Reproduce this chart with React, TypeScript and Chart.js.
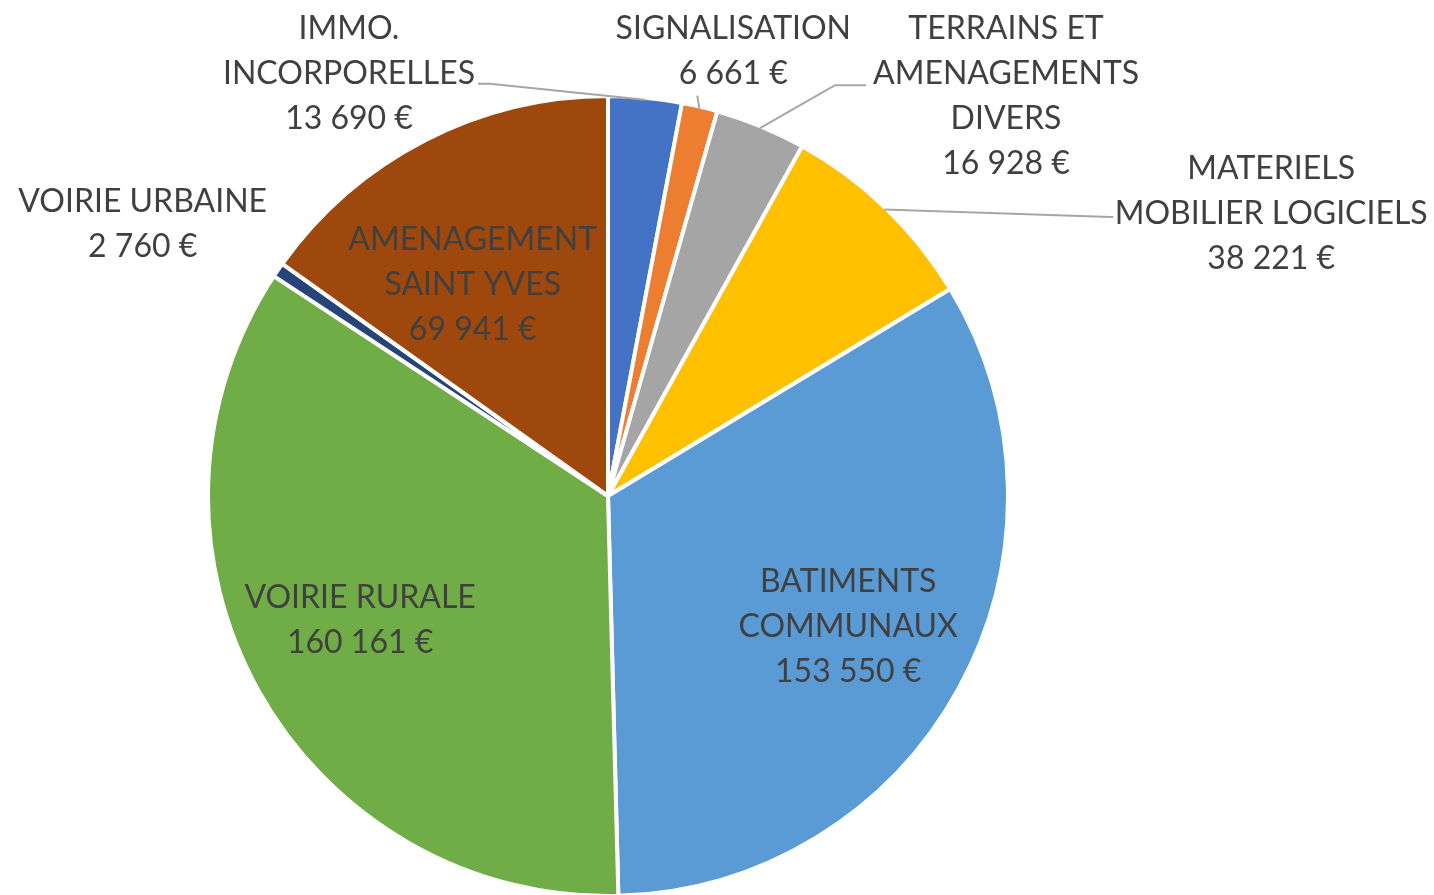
import React, { useEffect, useRef } from "react";
import { Chart, registerables } from "chart.js";

Chart.register(...registerables);

const categories: string[][] = [
  ["IMMO.", "INCORPORELLES"],
  ["SIGNALISATION"],
  ["TERRAINS ET", "AMENAGEMENTS", "DIVERS"],
  ["MATERIELS", "MOBILIER LOGICIELS"],
  ["BATIMENTS", "COMMUNAUX"],
  ["VOIRIE RURALE"],
  ["VOIRIE URBAINE"],
  ["AMENAGEMENT", "SAINT YVES"],
];
const values: number[] = [13690, 6661, 16928, 38221, 153550, 160161, 2760, 69941];
const valueLabels: string[] = [
  "13 690 €",
  "6 661 €",
  "16 928 €",
  "38 221 €",
  "153 550 €",
  "160 161 €",
  "2 760 €",
  "69 941 €",
];
const colors: string[] = [
  "#4472C4",
  "#ED7D31",
  "#A5A5A5",
  "#FFC000",
  "#5B9BD5",
  "#70AD47",
  "#264478",
  "#9E480E",
];

// Label placement relative to the mid point of each slice's outer edge
const labelPlacement = [
  { dx: -296, dy: -26, leader: [[-155, -16], [-167, -16]] },
  { dx: 34, dy: -57.5, leader: [[-2, -13]] },
  { dx: 246, dy: -31.5, leader: [[75, -43], [106, -43]] },
  { dx: 387, dy: 4.5, leader: [[226, 7.5], [229, 7.5]] },
  { dx: -109, dy: -60, leader: null },
  { dx: 100, dy: -69.5, leader: null },
  { dx: -137, dy: -46.5, leader: null },
  { dx: 47, dy: 143, leader: null },
];

const FONT = '32px Lato, "Open Sans", sans-serif';
const LINE_H = 45;
const TEXT_COLOR = "#404040";

const labelPlugin = {
  id: "sliceLabels",
  afterDraw(chart: any) {
    const ctx = chart.ctx;
    const meta = chart.getDatasetMeta(0);
    ctx.save();
    meta.data.forEach((arc: any, i: number) => {
      const p = labelPlacement[i];
      const mid = (arc.startAngle + arc.endAngle) / 2;
      const R = arc.outerRadius - 2;
      const ex = arc.x + R * Math.cos(mid);
      const ey = arc.y + R * Math.sin(mid);
      if (p.leader) {
        ctx.beginPath();
        ctx.strokeStyle = "#A6A6A6";
        ctx.lineWidth = 2;
        ctx.moveTo(ex, ey);
        p.leader.forEach((pt) => ctx.lineTo(ex + pt[0], ey + pt[1]));
        ctx.stroke();
      }
      const lines = [...categories[i], valueLabels[i]];
      const cx = ex + p.dx;
      const cy = ey + p.dy;
      ctx.font = FONT;
      ctx.fillStyle = TEXT_COLOR;
      ctx.textAlign = "center";
      ctx.textBaseline = "middle";
      const top = cy - ((lines.length - 1) * LINE_H) / 2;
      lines.forEach((t, k) => ctx.fillText(t, cx, top + k * LINE_H));
    });
    ctx.restore();
  },
};

export default function App() {
  const ref = useRef<HTMLCanvasElement | null>(null);
  useEffect(() => {
    document.body.style.margin = "0";
    const chart = new Chart(ref.current as HTMLCanvasElement, {
      type: "pie",
      data: {
        labels: categories.map((c) => c.join(" ")),
        datasets: [
          {
            data: values,
            backgroundColor: colors,
            borderColor: "#FFFFFF",
            borderWidth: 4,
          },
        ],
      },
      options: {
        responsive: false,
        animation: false,
        radius: 400,
        layout: { padding: { left: 210, right: 428, top: 98, bottom: 1 } },
        plugins: {
          legend: { display: false },
          tooltip: { enabled: false },
        },
      },
      plugins: [labelPlugin],
    });
    return () => chart.destroy();
  }, []);
  return (
    <div style={{ position: "fixed", left: 0, top: 0, width: 1434, height: 895, background: "#fff" }}>
      <canvas ref={ref} width={1434} height={895} />
    </div>
  );
}
